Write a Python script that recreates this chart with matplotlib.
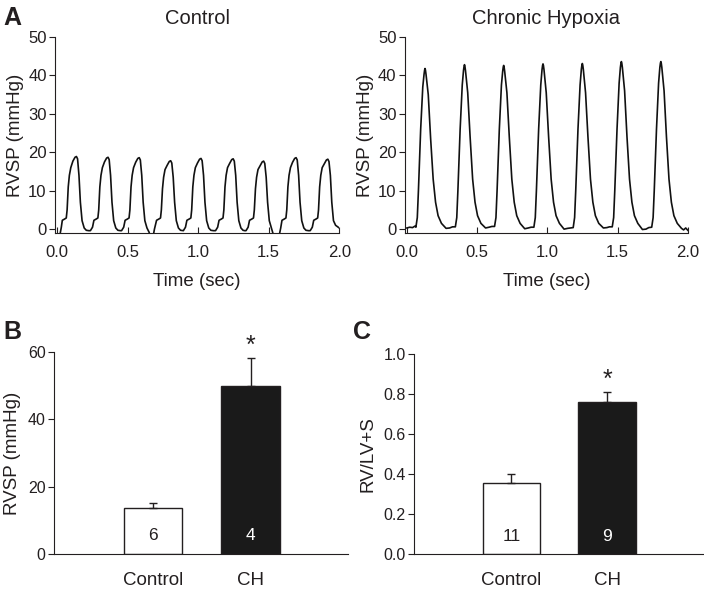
import matplotlib
matplotlib.use("Agg")
import matplotlib.pyplot as plt
import matplotlib.transforms as mtransforms

plt.rcParams['font.family'] = ['Liberation Sans', 'DejaVu Sans']
ink = '#231f20'
plt.rcParams['text.color'] = ink
plt.rcParams['axes.labelcolor'] = ink
plt.rcParams['xtick.color'] = ink
plt.rcParams['ytick.color'] = ink
plt.rcParams['axes.edgecolor'] = ink

# Panel A - control RVSP trace (time in s, pressure in mmHg)
ctrl_t = [0.020, 0.030, 0.037, 0.052, 0.065, 0.071, 0.079, 0.087, 0.097, 0.112, 0.127, 0.137, 0.145, 0.155, 0.165, 0.177, 0.192, 0.207, 0.225,
          0.236, 0.251, 0.261, 0.276, 0.289, 0.295, 0.303, 0.311, 0.321, 0.336, 0.351, 0.361, 0.369, 0.379, 0.389, 0.401, 0.416, 0.431, 0.449,
          0.457, 0.472, 0.482, 0.497, 0.510, 0.516, 0.524, 0.532, 0.542, 0.557, 0.572, 0.582, 0.590, 0.600, 0.610, 0.622, 0.637, 0.652, 0.665,
          0.680, 0.690, 0.705, 0.720, 0.733, 0.739, 0.747, 0.755, 0.765, 0.780, 0.795, 0.805, 0.813, 0.823, 0.833, 0.845, 0.860, 0.875, 0.893,
          0.895, 0.910, 0.920, 0.935, 0.948, 0.954, 0.962, 0.970, 0.980, 0.995, 1.010, 1.020, 1.028, 1.038, 1.048, 1.060, 1.075, 1.090, 1.108,
          1.123, 1.138, 1.148, 1.163, 1.176, 1.182, 1.190, 1.198, 1.208, 1.223, 1.238, 1.248, 1.256, 1.266, 1.276, 1.288, 1.303, 1.318, 1.330,
          1.339, 1.354, 1.364, 1.379, 1.392, 1.398, 1.406, 1.414, 1.424, 1.439, 1.454, 1.464, 1.472, 1.482, 1.492, 1.504, 1.519, 1.530, 1.545, 1.565,
          1.575, 1.585, 1.594, 1.609, 1.622, 1.628, 1.636, 1.644, 1.654, 1.669, 1.684, 1.694, 1.702, 1.712, 1.722, 1.734, 1.749, 1.764, 1.782,
          1.794, 1.809, 1.819, 1.834, 1.847, 1.853, 1.861, 1.869, 1.879, 1.894, 1.909, 1.919, 1.927, 1.937, 1.947, 1.959, 1.974, 2.000]
ctrl_v = [-1.5, 0.5, 2.3, 2.6, 2.9, 5.0, 11.0, 14.0, 16.0, 17.7, 18.7, 18.9, 18.3, 14.0, 7.0, 2.2, 0.3, -0.3, -0.4,
          -0.4, 0.5, 2.3, 2.6, 2.9, 5.0, 11.0, 14.0, 16.0, 17.5, 18.5, 18.7, 18.1, 14.0, 7.0, 2.2, 0.3, -0.3, -0.4,
          -0.4, 0.5, 2.3, 2.6, 2.9, 5.0, 11.0, 14.0, 16.0, 17.4, 18.4, 18.6, 18.0, 14.0, 7.0, 2.2, 0.3, -0.8, -2.5,
          -2.0, 0.0, 2.3, 2.6, 2.9, 5.0, 10.5, 13.5, 15.5, 16.6, 17.6, 17.8, 17.2, 13.5, 7.0, 2.2, 0.3, -0.3, -0.4,
          -0.4, 0.5, 2.3, 2.6, 2.9, 5.0, 11.0, 14.0, 16.0, 17.2, 18.2, 18.4, 17.8, 14.0, 7.0, 2.2, 0.3, -0.3, -0.4,
          -0.4, 0.5, 2.3, 2.6, 2.9, 5.0, 11.0, 14.0, 16.0, 17.1, 18.1, 18.3, 17.7, 14.0, 7.0, 2.2, 0.3, -0.3, -0.4,
          -0.4, 0.5, 2.3, 2.6, 2.9, 5.0, 10.5, 13.5, 15.5, 16.5, 17.5, 17.7, 17.1, 13.5, 7.0, 2.2, 0.3, -1.0, -3.0, -3.0,
          -1.5, 0.3, 2.3, 2.6, 2.9, 5.0, 11.0, 14.0, 16.0, 17.4, 18.4, 18.6, 18.0, 14.0, 7.0, 2.2, 0.3, -0.3, -0.4,
          -0.4, 0.5, 2.3, 2.6, 2.9, 5.0, 11.0, 14.0, 16.0, 17.0, 18.0, 18.2, 17.6, 14.0, 7.0, 2.2, 1.0, 0.3]

# Panel A - chronic hypoxia RVSP trace
ch_t = [0.000, 0.020, 0.040, 0.058,
        0.064, 0.074, 0.082, 0.098, 0.113, 0.122, 0.126, 0.129, 0.132, 0.136, 0.152, 0.169, 0.187, 0.204, 0.222, 0.246, 0.279, 0.304, 0.325,
        0.345, 0.355, 0.363, 0.379, 0.394, 0.403, 0.407, 0.410, 0.413, 0.417, 0.433, 0.450, 0.468, 0.485, 0.503, 0.527, 0.560, 0.585, 0.605,
        0.624, 0.634, 0.642, 0.658, 0.673, 0.682, 0.686, 0.689, 0.692, 0.696, 0.712, 0.729, 0.747, 0.764, 0.782, 0.806, 0.839, 0.864, 0.884,
        0.904, 0.914, 0.922, 0.938, 0.953, 0.962, 0.966, 0.969, 0.972, 0.976, 0.992, 1.009, 1.027, 1.044, 1.062, 1.086, 1.119, 1.144, 1.164,
        1.184, 1.194, 1.202, 1.218, 1.233, 1.242, 1.246, 1.249, 1.252, 1.256, 1.272, 1.289, 1.307, 1.324, 1.342, 1.366, 1.399, 1.424, 1.442,
        1.462, 1.472, 1.480, 1.496, 1.511, 1.520, 1.524, 1.527, 1.530, 1.534, 1.550, 1.567, 1.585, 1.602, 1.620, 1.644, 1.677, 1.702, 1.722,
        1.743, 1.753, 1.761, 1.777, 1.792, 1.801, 1.805, 1.808, 1.811, 1.815, 1.831, 1.848, 1.866, 1.883, 1.901, 1.925, 1.955, 1.970, 1.985, 2.000]
ch_v = [0.3, 0.5, 0.4, 0.8,
        0.5, 3.0, 10.0, 26.0, 37.0, 40.3, 41.4, 41.8, 41.4, 40.3, 35.0, 23.5, 13.0, 7.0, 3.5, 1.5, 0.2, 0.3, 0.6,
        0.6, 3.0, 10.0, 26.0, 37.5, 41.3, 42.4, 42.8, 42.4, 41.3, 35.5, 24.0, 13.0, 7.0, 3.5, 1.5, 0.3, 0.5, 0.7,
        0.7, 3.0, 10.0, 26.0, 37.5, 41.1, 42.2, 42.6, 42.2, 41.1, 35.5, 24.0, 13.0, 7.0, 3.5, 1.5, 0.1, 0.3, 0.5,
        0.5, 3.0, 10.0, 26.0, 37.5, 41.5, 42.6, 43.0, 42.6, 41.5, 35.5, 24.0, 13.0, 7.0, 3.5, 1.5, 0.0, 0.2, 0.3,
        0.4, 3.0, 10.0, 26.0, 37.5, 41.6, 42.7, 43.1, 42.7, 41.6, 35.5, 24.0, 13.0, 7.0, 3.5, 1.5, 0.3, 0.4, 0.6,
        0.6, 3.0, 10.0, 26.0, 38.0, 42.1, 43.2, 43.6, 43.2, 42.1, 36.0, 24.0, 13.0, 7.0, 3.5, 1.5, -0.1, 0.0, 0.4,
        0.5, 3.0, 10.0, 26.0, 38.0, 42.1, 43.2, 43.6, 43.2, 42.1, 36.0, 24.0, 13.0, 7.0, 3.5, 1.5, 0.2, -0.2, 0.3, -0.3]

# Panels B and C - group means, SEM, n
groups = ['Control', 'CH']
rvsp_mean = [13.7, 49.8]
rvsp_sem = [1.5, 8.4]
rvsp_n = ['6', '4']
ratio_mean = [0.355, 0.762]
ratio_sem = [0.045, 0.048]
ratio_n = ['11', '9']
bar_colors = ['white', '#1a1a1a']
n_colors = [ink, 'white']

fig = plt.figure(figsize=(7.04, 5.91), dpi=100)

def trace_panel(rect, t, v, title):
    ax = fig.add_axes(rect)
    ax.plot(t, v, color='#111111', lw=1.2)
    ax.set_xlim(-0.015, 2.0)
    ax.set_ylim(-1, 50)
    ax.set_xticks([0, 0.5, 1.0, 1.5, 2.0])
    ax.set_xticklabels(['0.0', '0.5', '1.0', '1.5', '2.0'])
    ax.set_yticks([0, 10, 20, 30, 40, 50])
    ax.spines['top'].set_visible(False)
    ax.spines['right'].set_visible(False)
    ax.tick_params(axis='x', direction='in', length=4, labelsize=12, pad=9)
    ax.tick_params(axis='y', direction='out', length=4, labelsize=12, pad=2)
    ax.set_xlabel('Time (sec)', fontsize=13.5, labelpad=9)
    ax.set_ylabel('RVSP (mmHg)', fontsize=13.5, labelpad=3)
    ax.set_title(title, fontsize=14.5, pad=9.5)
    return ax

trace_panel([0.0781, 0.6058, 0.4038, 0.3316], ctrl_t, ctrl_v, 'Control')
trace_panel([0.5750, 0.6058, 0.4020, 0.3316], ch_t, ch_v, 'Chronic Hypoxia')

def bar_panel(rect, means, sems, ns, ylim, yticks, ylabels, ylabel):
    ax = fig.add_axes(rect)
    x = [0, 1]
    ax.bar(x, means, width=0.6, color=bar_colors, edgecolor=ink, linewidth=1.0)
    ax.errorbar(x, means, yerr=[[0, 0], sems], fmt='none', ecolor=ink,
                elinewidth=1.0, capsize=3, capthick=1.0)
    trans = mtransforms.blended_transform_factory(ax.transData, ax.transAxes)
    for xi, m, s, n, c in zip(x, means, sems, ns, n_colors):
        if xi == 1:
            ax.annotate('*', (xi, m + s), xytext=(0, 0),
                        textcoords='offset points', ha='center', va='bottom',
                        fontsize=18, annotation_clip=False)
        ax.text(xi, 0.09, n, transform=trans, ha='center', va='center',
                fontsize=12.5, color=c)
    ax.set_xlim(-1.02, 2.0)
    ax.set_ylim(*ylim)
    ax.set_yticks(yticks)
    ax.set_yticklabels(ylabels)
    ax.set_xticks(x)
    ax.set_xticklabels(groups)
    ax.spines['top'].set_visible(False)
    ax.spines['right'].set_visible(False)
    ax.tick_params(axis='x', length=0, labelsize=13.5, pad=13)
    ax.tick_params(axis='y', direction='out', length=4, labelsize=11.5, pad=2)
    ax.set_ylabel(ylabel, fontsize=13.5, labelpad=5)
    return ax

bar_panel([0.0767, 0.0626, 0.4176, 0.3418], rvsp_mean, rvsp_sem, rvsp_n,
          (0, 60), [0, 20, 40, 60], ['0', '20', '40', '60'], 'RVSP (mmHg)')
bar_panel([0.5880, 0.0626, 0.4100, 0.3384], ratio_mean, ratio_sem, ratio_n,
          (0, 1.0), [0, 0.2, 0.4, 0.6, 0.8, 1.0],
          ['0.0', '0.2', '0.4', '0.6', '0.8', '1.0'], 'RV/LV+S')

fig.text(0.005, 0.99, 'A', fontsize=18, fontweight='bold', va='top', ha='left')
fig.text(0.005, 0.458, 'B', fontsize=18, fontweight='bold', va='top', ha='left')
fig.text(0.502, 0.458, 'C', fontsize=18, fontweight='bold', va='top', ha='left')

fig.savefig('out.png', dpi=100)
